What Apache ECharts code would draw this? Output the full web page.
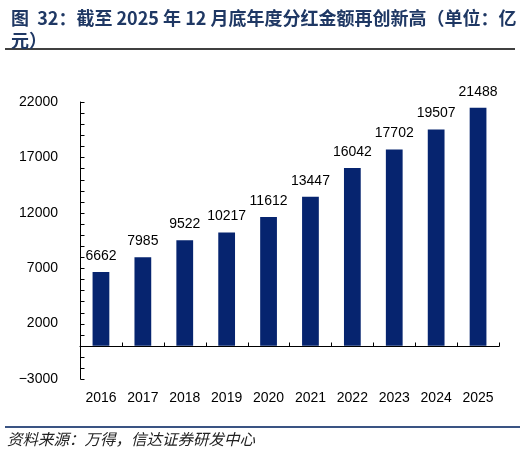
<!DOCTYPE html>
<html><head><meta charset="utf-8">
<script src="https://cdn.jsdelivr.net/npm/echarts@6/dist/echarts.min.js"></script>
<style>html,body{margin:0;padding:0;background:#fff}#c{width:520px;height:457px}</style>
</head><body><div id="c"></div>
<script>
var categories = ['2016','2017','2018','2019','2020','2021','2022','2023','2024','2025'];
var dividends = [6662, 7985, 9522, 10217, 11612, 13447, 16042, 17702, 19507, 21488];
var yTickValues = [-3000,-2000,-1000,0,1000,2000,3000,4000,5000,6000,7000,8000,9000,10000,11000,12000,13000,14000,15000,16000,17000,18000,19000,20000,21000,22000];
var titleText = '图  32：截至 2025 年 12 月底年度分红金额再创新高（单位：亿\n元）';
var sourceText = '资料来源：万得，信达证券研发中心';

var chart = echarts.init(document.getElementById('c'));
var numFont = '"Liberation Sans", Arial, sans-serif';
var TICK = 4;

function yTickItem(params, api) {
  var c = api.coord([0, api.value(1)]);
  var half = api.size([1, 0])[0] / 2;
  var x = Math.round(c[0] - half) + 0.5, y = Math.round(c[1]) + 0.5;
  return {type: 'line', shape: {x1: x, y1: y, x2: x + TICK, y2: y}, style: {stroke: '#000', lineWidth: 1}, silent: true};
}
function xTickItem(params, api) {
  var idx = api.value(0);
  var c = api.coord([idx, 0]);
  var half = api.size([1, 0])[0] / 2;
  var y = Math.round(c[1]) + 0.5;
  var xs = [c[0] + half];
  var children = xs.map(function (xx) {
    var x = Math.round(xx) + 0.5;
    return {type: 'line', shape: {x1: x, y1: y, x2: x, y2: y - TICK}, style: {stroke: '#000', lineWidth: 1}, silent: true};
  });
  return {type: 'group', children: children};
}

chart.setOption({
  animation: false,
  title: {
    text: titleText, left: 6, top: 2,
    textStyle: {fontFamily: '"Noto Sans CJK SC", sans-serif', fontWeight: 'bold', fontSize: 18, color: '#1F3864', lineHeight: 22}
  },
  graphic: [
    {type: 'line', shape: {x1: 5, y1: 49, x2: 515, y2: 49}, style: {stroke: '#000', lineWidth: 1.5}},
    {type: 'line', shape: {x1: 5, y1: 427, x2: 520, y2: 427}, style: {stroke: '#3A5483', lineWidth: 2}},
    {type: 'text', left: 7, top: 431, style: {text: sourceText, font: 'italic 15.5px "Noto Sans CJK SC", sans-serif', fill: '#222'}}
  ],
  grid: {left: 80, right: 21, top: 102, bottom: 78, containLabel: false},
  xAxis: [
    {type: 'category', data: categories, position: 'bottom',
     axisLine: {show: true, onZero: true, lineStyle: {color: '#000', width: 1}},
     axisTick: {show: false},
     axisLabel: {show: false}},
    {type: 'category', data: categories, position: 'bottom',
     axisLine: {show: false, onZero: false}, axisTick: {show: false},
     axisLabel: {show: true, fontSize: 14, color: '#000', fontFamily: numFont, margin: 12}}
  ],
  yAxis: {
    type: 'value', min: -3000, max: 22000, interval: 5000,
    axisLine: {show: true, lineStyle: {color: '#000', width: 1}},
    axisTick: {show: false},
    splitLine: {show: false},
    axisLabel: {fontSize: 14, color: '#000', fontFamily: numFont, margin: 22,
      formatter: function (v) { return v < 0 ? '\u2212' + Math.abs(v) : String(v); }}
  },
  series: [
    {type: 'bar', data: dividends, xAxisIndex: 0, barWidth: '40%',
     itemStyle: {color: '#06246F'},
     label: {show: true, position: 'top', distance: 9, fontSize: 14, color: '#000', fontFamily: numFont}},
    {type: 'custom', xAxisIndex: 0, clip: false, silent: true, renderItem: yTickItem,
     data: yTickValues.map(function (v) { return [0, v]; }), z: 5, tooltip: {show: false}},
    {type: 'custom', xAxisIndex: 0, clip: false, silent: true, renderItem: xTickItem,
     data: categories.map(function (c, i) { return [i, 0]; }), z: 5, tooltip: {show: false}}
  ]
});
</script></body></html>
